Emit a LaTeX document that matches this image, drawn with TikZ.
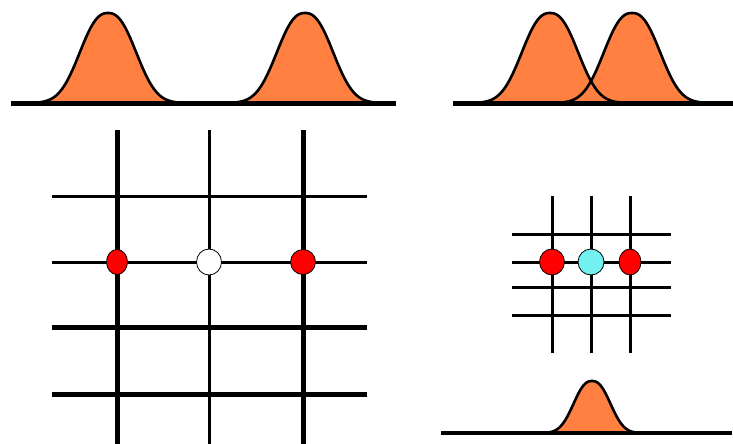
\documentclass[tikz,border=0pt]{standalone}
\usetikzlibrary{shapes.geometric}
\definecolor{bell}{RGB}{255,128,64}
\definecolor{aqua}{RGB}{115,240,240}
\tikzset{
  baseline line/.style={line width=5pt},
  thickgrid/.style={line width=5pt},
  thingrid/.style={line width=3pt},
  smallgrid/.style={line width=3pt},
  bellfill/.style={fill=bell},
  belledge/.style={draw=black, line width=2.6pt, line join=round},
  dot/.style={ellipse, draw=black, line width=0.8pt, inner sep=0pt}
}
\begin{document}
\begin{tikzpicture}[x=1pt,y=-1pt]
\useasboundingbox (0,0) rectangle (733,444);
% bell fills
\foreach \c/\h/\s/\b in {108/90/35.5/103, 305/90/35.5/103, 550/90/35.5/103, 632/90/35.5/103, 592/52/23.3/433}{
  \pgfmathsetmacro\lo{\c-2.1*\s}
  \pgfmathsetmacro\hi{\c+2.1*\s}
  \fill[bellfill] plot[domain=\lo:\hi, samples=90, smooth] (\x,{\b-\h*exp(-((abs(\x-\c)+0.01)/\s)^2.4)}) -- cycle;
}
% base lines
\coordinate (b1l) at (11,103); \coordinate (b1r) at (396,103);
\coordinate (b2l) at (453,103); \coordinate (b2r) at (733,103);
\coordinate (b3l) at (441,433); \coordinate (b3r) at (732,433);
\draw[baseline line] (b1l) -- (b1r);
\draw[baseline line] (b2l) -- (b2r);
\draw[baseline line, line width=3.5pt] (b3l) -- (b3r);
% bell outlines
\foreach \c/\h/\s/\b in {108/90/35.5/103, 305/90/35.5/103, 550/90/35.5/103, 632/90/35.5/103, 592/52/23.3/433}{
  \pgfmathsetmacro\lo{\c-2.1*\s}
  \pgfmathsetmacro\hi{\c+2.1*\s}
  \draw[belledge] plot[domain=\lo:\hi, samples=90, smooth] (\x,{\b-\h*exp(-((abs(\x-\c)+0.01)/\s)^2.4)});
}
% large grid
\draw[thingrid] (52,196) -- (367,196);
\draw[thingrid] (52,262) -- (367,262);
\draw[thickgrid] (52,327) -- (367,327);
\draw[thickgrid] (52,394) -- (367,394);
\draw[thickgrid] (117,130) -- (117,444);
\draw[thingrid] (209,130) -- (209,444);
\draw[thickgrid] (303,130) -- (303,444);
\node[dot, fill=red, minimum width=21pt, minimum height=25pt] (L1) at (117,262) {};
\node[dot, fill=white, minimum width=25pt, minimum height=26pt] (L2) at (209,262) {};
\node[dot, fill=red, minimum width=25pt, minimum height=25pt] (L3) at (303,262) {};
% small grid
\foreach \y in {234,262,287,315}{
  \draw[smallgrid] (512,\y) -- (671,\y);
}
\foreach \x in {552,591,630}{
  \draw[smallgrid] (\x,196) -- (\x,353);
}
\node[dot, fill=red, minimum width=25pt, minimum height=26pt] (S1) at (552,262) {};
\node[dot, fill=aqua, minimum width=26pt, minimum height=26pt] (S2) at (591,262) {};
\node[dot, fill=red, minimum width=22pt, minimum height=26pt] (S3) at (630,262) {};
\end{tikzpicture}
\end{document}
